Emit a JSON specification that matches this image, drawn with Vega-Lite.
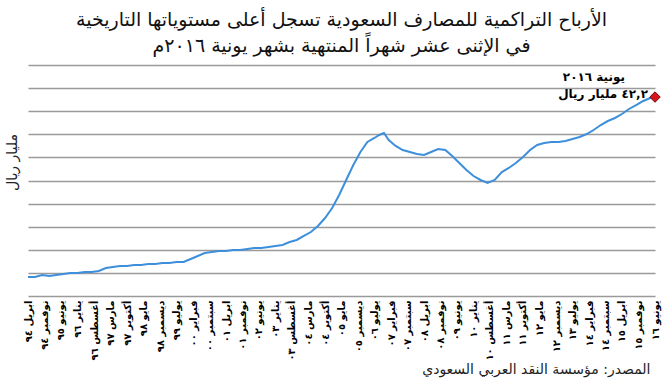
{
  "$schema": "https://vega.github.io/schema/vega-lite/v6.json",
  "width": 627,
  "height": 231,
  "autosize": {"type": "none"},
  "padding": {"left": 28, "top": 65, "right": 15, "bottom": 93},
  "background": "white",
  "config": {"font": "DejaVu Sans", "view": {"stroke": null}},
  "title": {
    "text": ["الأرباح التراكمية للمصارف السعودية تسجل أعلى مستوياتها التاريخية", "في الإثنى عشر شهراً المنتهية بشهر يونية ٢٠١٦م"],
    "fontSize": 19,
    "fontWeight": "normal",
    "color": "#111111",
    "anchor": "middle",
    "offset": 9,
    "lineHeight": 26
  },
  "datasets": {
    "series": [
      {"date": "1994-04-01", "v": 4.03},
      {"date": "1994-07-01", "v": 4.03},
      {"date": "1994-10-01", "v": 4.46},
      {"date": "1995-01-01", "v": 4.24},
      {"date": "1995-04-01", "v": 4.46},
      {"date": "1995-07-01", "v": 4.67},
      {"date": "1995-10-01", "v": 4.88},
      {"date": "1996-01-01", "v": 4.88},
      {"date": "1996-04-01", "v": 5.09},
      {"date": "1996-07-01", "v": 5.09},
      {"date": "1996-10-01", "v": 5.30},
      {"date": "1997-01-01", "v": 5.94},
      {"date": "1997-04-01", "v": 6.15},
      {"date": "1997-07-01", "v": 6.36},
      {"date": "1997-10-01", "v": 6.36},
      {"date": "1998-01-01", "v": 6.58},
      {"date": "1998-04-01", "v": 6.58},
      {"date": "1998-07-01", "v": 6.79},
      {"date": "1998-10-01", "v": 6.79},
      {"date": "1999-01-01", "v": 7.00},
      {"date": "1999-04-01", "v": 7.00},
      {"date": "1999-07-01", "v": 7.21},
      {"date": "1999-10-01", "v": 7.21},
      {"date": "2000-01-01", "v": 7.85},
      {"date": "2000-04-01", "v": 8.49},
      {"date": "2000-07-01", "v": 9.12},
      {"date": "2000-10-01", "v": 9.33},
      {"date": "2001-01-01", "v": 9.55},
      {"date": "2001-04-01", "v": 9.55},
      {"date": "2001-07-01", "v": 9.76},
      {"date": "2001-10-01", "v": 9.76},
      {"date": "2002-01-01", "v": 9.97},
      {"date": "2002-04-01", "v": 10.18},
      {"date": "2002-07-01", "v": 10.18},
      {"date": "2002-10-01", "v": 10.40},
      {"date": "2003-01-01", "v": 10.61},
      {"date": "2003-04-01", "v": 10.82},
      {"date": "2003-07-01", "v": 11.46},
      {"date": "2003-10-01", "v": 11.88},
      {"date": "2004-01-01", "v": 12.73},
      {"date": "2004-04-01", "v": 13.57},
      {"date": "2004-07-01", "v": 14.85},
      {"date": "2004-10-01", "v": 16.54},
      {"date": "2005-01-01", "v": 18.67},
      {"date": "2005-04-01", "v": 21.42},
      {"date": "2005-07-01", "v": 24.61},
      {"date": "2005-10-01", "v": 27.78},
      {"date": "2006-01-01", "v": 30.55},
      {"date": "2006-04-01", "v": 32.67},
      {"date": "2006-07-01", "v": 33.52},
      {"date": "2006-09-01", "v": 34.15},
      {"date": "2006-11-01", "v": 34.57},
      {"date": "2007-01-01", "v": 33.09},
      {"date": "2007-04-01", "v": 31.82},
      {"date": "2007-07-01", "v": 30.97},
      {"date": "2007-10-01", "v": 30.55},
      {"date": "2008-01-01", "v": 30.13},
      {"date": "2008-04-01", "v": 29.91},
      {"date": "2008-07-01", "v": 30.55},
      {"date": "2008-10-01", "v": 31.18},
      {"date": "2009-01-01", "v": 30.97},
      {"date": "2009-04-01", "v": 29.70},
      {"date": "2009-07-01", "v": 28.21},
      {"date": "2009-10-01", "v": 26.73},
      {"date": "2010-01-01", "v": 25.45},
      {"date": "2010-04-01", "v": 24.61},
      {"date": "2010-07-01", "v": 23.97},
      {"date": "2010-10-01", "v": 24.61},
      {"date": "2011-01-01", "v": 26.30},
      {"date": "2011-04-01", "v": 27.16},
      {"date": "2011-07-01", "v": 28.21},
      {"date": "2011-10-01", "v": 29.49},
      {"date": "2012-01-01", "v": 30.97},
      {"date": "2012-04-01", "v": 32.03},
      {"date": "2012-07-01", "v": 32.46},
      {"date": "2012-10-01", "v": 32.67},
      {"date": "2013-01-01", "v": 32.67},
      {"date": "2013-04-01", "v": 32.88},
      {"date": "2013-07-01", "v": 33.30},
      {"date": "2013-10-01", "v": 33.73},
      {"date": "2014-01-01", "v": 34.36},
      {"date": "2014-04-01", "v": 35.21},
      {"date": "2014-07-01", "v": 36.27},
      {"date": "2014-10-01", "v": 37.12},
      {"date": "2015-01-01", "v": 37.76},
      {"date": "2015-04-01", "v": 38.60},
      {"date": "2015-07-01", "v": 39.67},
      {"date": "2015-10-01", "v": 40.51},
      {"date": "2016-01-01", "v": 41.37},
      {"date": "2016-04-01", "v": 42.00},
      {"date": "2016-06-01", "v": 42.2}
    ],
    "last": [
      {"date": "2016-06-01", "v": 42.2, "t1": "يونية ٢٠١٦", "t2": "٤٢,٢ مليار ريال"}
    ]
  },
  "layer": [
    {
      "data": {"name": "series"},
      "mark": {"type": "line", "color": "#3d8fdc", "strokeWidth": 2},
      "encoding": {
        "x": {
          "field": "date",
          "type": "temporal",
          "scale": {
            "type": "utc",
            "domain": [
              {"year": 1994, "month": 4, "date": 1, "utc": true},
              {"year": 2016, "month": 6, "date": 1, "utc": true}
            ]
          },
          "axis": {
            "tickCount": 200,
            "values": [
              {"year": 1994, "month": 4, "date": 1, "utc": true},
              {"year": 1994, "month": 11, "date": 1, "utc": true},
              {"year": 1995, "month": 6, "date": 1, "utc": true},
              {"year": 1996, "month": 1, "date": 1, "utc": true},
              {"year": 1996, "month": 8, "date": 1, "utc": true},
              {"year": 1997, "month": 3, "date": 1, "utc": true},
              {"year": 1997, "month": 10, "date": 1, "utc": true},
              {"year": 1998, "month": 5, "date": 1, "utc": true},
              {"year": 1998, "month": 12, "date": 1, "utc": true},
              {"year": 1999, "month": 7, "date": 1, "utc": true},
              {"year": 2000, "month": 2, "date": 1, "utc": true},
              {"year": 2000, "month": 9, "date": 1, "utc": true},
              {"year": 2001, "month": 4, "date": 1, "utc": true},
              {"year": 2001, "month": 11, "date": 1, "utc": true},
              {"year": 2002, "month": 6, "date": 1, "utc": true},
              {"year": 2003, "month": 1, "date": 1, "utc": true},
              {"year": 2003, "month": 8, "date": 1, "utc": true},
              {"year": 2004, "month": 3, "date": 1, "utc": true},
              {"year": 2004, "month": 10, "date": 1, "utc": true},
              {"year": 2005, "month": 5, "date": 1, "utc": true},
              {"year": 2005, "month": 12, "date": 1, "utc": true},
              {"year": 2006, "month": 7, "date": 1, "utc": true},
              {"year": 2007, "month": 2, "date": 1, "utc": true},
              {"year": 2007, "month": 9, "date": 1, "utc": true},
              {"year": 2008, "month": 4, "date": 1, "utc": true},
              {"year": 2008, "month": 11, "date": 1, "utc": true},
              {"year": 2009, "month": 6, "date": 1, "utc": true},
              {"year": 2010, "month": 1, "date": 1, "utc": true},
              {"year": 2010, "month": 8, "date": 1, "utc": true},
              {"year": 2011, "month": 3, "date": 1, "utc": true},
              {"year": 2011, "month": 10, "date": 1, "utc": true},
              {"year": 2012, "month": 5, "date": 1, "utc": true},
              {"year": 2012, "month": 12, "date": 1, "utc": true},
              {"year": 2013, "month": 7, "date": 1, "utc": true},
              {"year": 2014, "month": 2, "date": 1, "utc": true},
              {"year": 2014, "month": 9, "date": 1, "utc": true},
              {"year": 2015, "month": 4, "date": 1, "utc": true},
              {"year": 2015, "month": 11, "date": 1, "utc": true},
              {"year": 2016, "month": 6, "date": 1, "utc": true}
            ],
            "labelExpr": "['يناير','فبراير','مارس','ابريل','مايو','يونيو','يوليو','أغسطس','سبتمبر','أكتوبر','نوفمبر','ديسمبر'][utcmonth(datum.value)] + ' ' + ['٩٤','٩٥','٩٦','٩٧','٩٨','٩٩','٠٠','٠١','٠٢','٠٣','٠٤','٠٥','٠٦','٠٧','٠٨','٠٩','١٠','١١','١٢','١٣','١٤','١٥','١٦'][utcyear(datum.value) - 1994]",
            "labelAngle": -90,
            "labelFontSize": 10,
            "labelFontWeight": "bold",
            "labelColor": "#000000",
            "labelPadding": 4,
            "labelOverlap": false,
            "labelBound": false,
            "ticks": false,
            "domain": false,
            "grid": false,
            "title": "المصدر: مؤسسة النقد العربي السعودي",
            "titleFontSize": 14,
            "titleFontWeight": "normal",
            "titleColor": "#222222",
            "titleAnchor": "end",
            "titleAlign": "right",
            "titleBaseline": "middle",
            "titleX": 622,
            "titleY": 73
          }
        },
        "y": {
          "field": "v",
          "type": "quantitative",
          "scale": {"domain": [0, 49], "nice": false},
          "axis": {
            "tickCount": 50,
            "values": [0, 4.9, 9.8, 14.7, 19.6, 24.5, 29.4, 34.3, 39.2, 44.1, 49],
            "labels": false,
            "ticks": false,
            "domain": false,
            "grid": true,
            "gridColor": "#9a9a9a",
            "gridWidth": 1.5,
            "title": "مليار ريال",
            "titleFontSize": 14,
            "titleFontWeight": "normal",
            "titleColor": "#222222",
            "titleAngle": -90,
            "titleAlign": "center",
            "titleBaseline": "middle",
            "titleX": -16,
            "titleY": 97
          }
        }
      }
    },
    {
      "data": {"name": "last"},
      "mark": {"type": "point", "shape": "diamond", "filled": true, "fill": "#d6141c", "stroke": "#6b0a0a", "strokeWidth": 1, "size": 110, "opacity": 1},
      "encoding": {
        "x": {"field": "date", "type": "temporal"},
        "y": {"field": "v", "type": "quantitative"}
      }
    },
    {
      "data": {"name": "last"},
      "mark": {"type": "text", "align": "right", "baseline": "middle", "dx": -7, "dy": -3, "fontSize": 12, "fontWeight": "bold", "color": "#000000"},
      "encoding": {
        "x": {"field": "date", "type": "temporal"},
        "y": {"field": "v", "type": "quantitative"},
        "text": {"field": "t2"}
      }
    },
    {
      "data": {"name": "last"},
      "mark": {"type": "text", "align": "right", "baseline": "middle", "dx": -30, "dy": -20, "fontSize": 12, "fontWeight": "bold", "color": "#000000"},
      "encoding": {
        "x": {"field": "date", "type": "temporal"},
        "y": {"field": "v", "type": "quantitative"},
        "text": {"field": "t1"}
      }
    }
  ]
}
